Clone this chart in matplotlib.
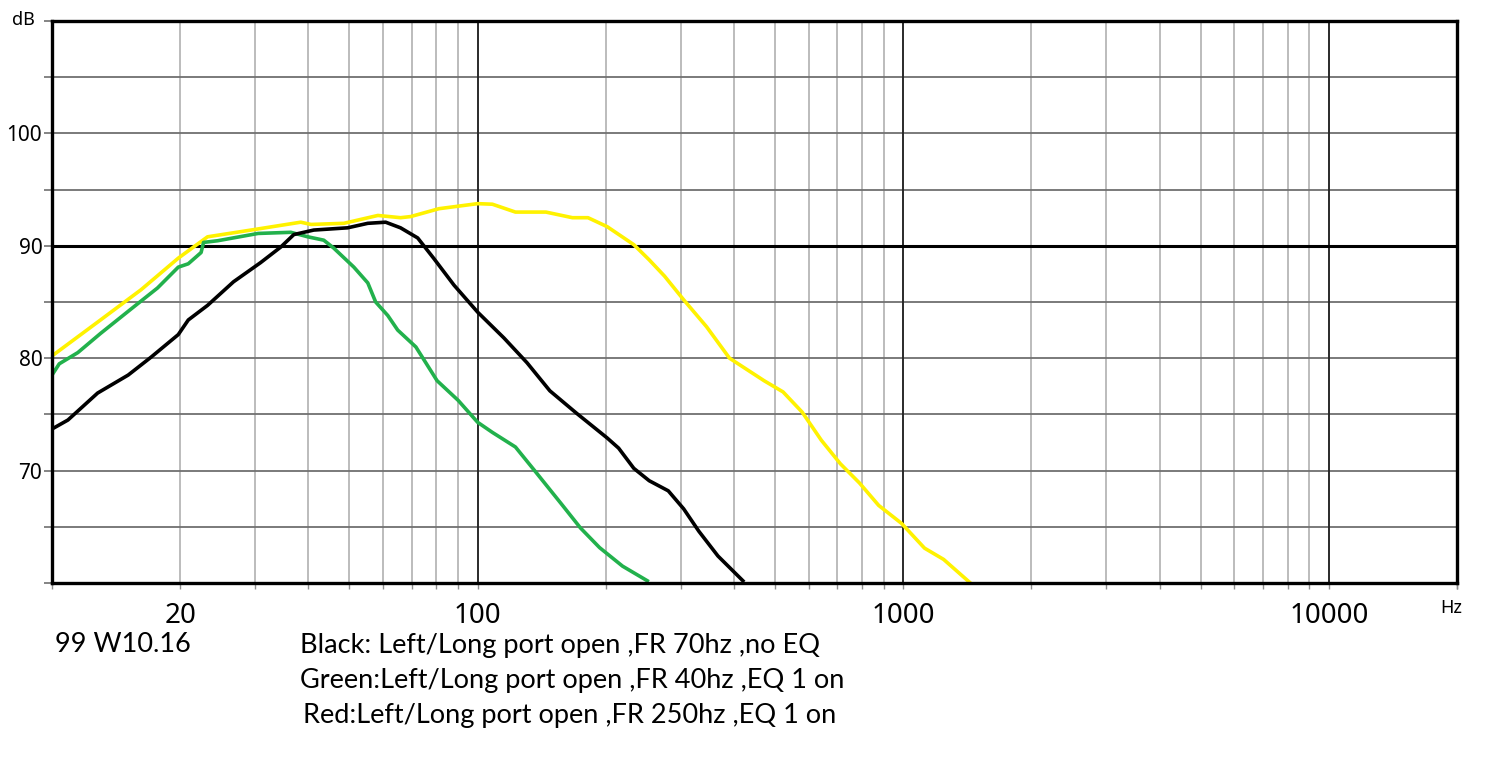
import numpy as np
import matplotlib
matplotlib.use('Agg')
import matplotlib.pyplot as plt
from matplotlib.ticker import FixedLocator, FixedFormatter

# Frequency response curves (Hz, dB)
black_hz = [10, 10.9, 12.8, 15.1, 17.1, 19.8, 20.9, 23.2, 26.7, 30.9, 34.5, 37.0,
            41.2, 49.5, 55.2, 60.8, 65.9, 72.3, 78.8, 88, 100, 115.3, 130.6, 147.8,
            170.8, 201.6, 214.4, 232.8, 253, 280.5, 304.8, 331, 367, 420]
black_db = [73.7, 74.5, 76.9, 78.5, 80.1, 82.1, 83.4, 84.7, 86.8, 88.5, 89.9, 91.0,
            91.4, 91.6, 92.0, 92.1, 91.6, 90.7, 88.9, 86.5, 84.1, 81.8, 79.6, 77.1,
            75.1, 72.9, 72.0, 70.2, 69.1, 68.2, 66.6, 64.6, 62.4, 60.2]

green_hz = [10, 10.4, 11.5, 13.0, 15.6, 17.7, 19.8, 20.9, 22.4, 22.7, 24.5, 30.5,
            36.4, 39.9, 43.5, 45.9, 51.2, 55.2, 57.6, 61.5, 64.9, 71.6, 80.3, 90.0,
            100, 108.3, 122.7, 136.1, 157.2, 174.4, 193.4, 219, 250.4]
green_db = [78.5, 79.5, 80.5, 82.2, 84.6, 86.25, 88.1, 88.4, 89.4, 90.3, 90.45, 91.1,
            91.2, 90.8, 90.5, 89.8, 88.1, 86.7, 85.0, 83.8, 82.5, 81.0, 78.0, 76.25,
            74.3, 73.4, 72.1, 70.0, 67.05, 64.9, 63.15, 61.5, 60.2]

yellow_hz = [10, 13.0, 16.2, 19.8, 23.2, 30.5, 38.4, 40.6, 48.5, 58.3, 65.9, 69.6,
             81.1, 100, 108.3, 122.7, 144.7, 167, 181.7, 201.6, 232.8, 253, 274.9,
             304.8, 345, 390.7, 470.9, 521.9, 578.8, 642, 711.9, 789, 875.7, 991,
             1122, 1244, 1438]
yellow_db = [80.2, 83.4, 86.1, 88.9, 90.8, 91.5, 92.1, 91.9, 92.0, 92.7, 92.5, 92.6,
             93.3, 93.75, 93.7, 93.0, 93.0, 92.5, 92.5, 91.7, 90.1, 88.75, 87.3,
             85.2, 82.8, 80.0, 78.0, 77.0, 75.2, 72.7, 70.6, 68.9, 66.9, 65.3,
             63.1, 62.1, 60.0]

x_labelled = [20, 100, 1000, 10000]
y_labelled = [70, 80, 90, 100]
legend_lines = ['Black: Left/Long port open ,FR 70hz ,no EQ',
                'Green:Left/Long port open ,FR 40hz ,EQ 1 on',
                'Red:Left/Long port open ,FR 250hz ,EQ 1 on']

fig = plt.figure(figsize=(15, 7.74), dpi=100)
ax = fig.add_axes([52/1500, 1 - 583/774, 1405/1500, 562/774])

ax.set_xscale('log')
ax.set_xlim(10, 20000)
ax.set_ylim(60, 110)

# grid: every 1-9 multiple on x, every 5 dB on y
xgrid = [m * 10**e for e in range(1, 5) for m in range(1, 10) if m * 10**e <= 20000] + [20000]
ygrid = list(range(60, 111, 5))
ax.xaxis.set_major_locator(FixedLocator(xgrid))
ax.xaxis.set_major_formatter(FixedFormatter([str(v) if v in x_labelled else '' for v in xgrid]))
ax.xaxis.set_minor_locator(FixedLocator([]))
ax.yaxis.set_major_locator(FixedLocator(ygrid))
ax.yaxis.set_major_formatter(FixedFormatter([str(v) if v in y_labelled else '' for v in ygrid]))

ax.grid(True, axis='x', color='#b0b0b0', linewidth=1.2)
ax.grid(True, axis='y', color='#707070', linewidth=1.3)
for v in [100, 1000, 10000]:
    ax.axvline(v, color='#202020', linewidth=1.3)
ax.axhline(90, color='black', linewidth=2.2)

ax.tick_params(axis='x', direction='out', length=4, width=1, color='#909090',
               labelsize=20, pad=10)
ax.tick_params(axis='y', direction='out', length=6, width=1.2, color='#707070',
               labelsize=15, pad=1)
for lab in ax.get_xticklabels() + ax.get_yticklabels():
    lab.set_family('Noto Sans')
for s in ax.spines.values():
    s.set_linewidth(2.4)
    s.set_color('black')

ax.plot(yellow_hz, yellow_db, color='#fff200', linewidth=2.6, solid_joinstyle='round')
ax.plot(green_hz, green_db, color='#22b14c', linewidth=2.6, solid_joinstyle='round')
ax.plot(black_hz, black_db, color='black', linewidth=2.6, solid_joinstyle='round')

fig.text(12/1500, 1 - 20/774, 'dB', fontsize=13, family='Noto Sans', va='center', ha='left')
fig.text(1451/1500, 1 - 608/774, 'Hz', fontsize=13, family='Noto Sans', va='center', ha='center')

fig.text(55/1500, 1 - 645/774, '99 W10.16', fontsize=19.5, family='Lato', va='center', ha='left')
for i, line in enumerate(legend_lines):
    fig.text((300 + 3 * (i == 2))/1500, 1 - (645 + 35.5 * i)/774, line, fontsize=19.5,
             family='Lato', va='center', ha='left')

fig.savefig('out.png', dpi=100)
